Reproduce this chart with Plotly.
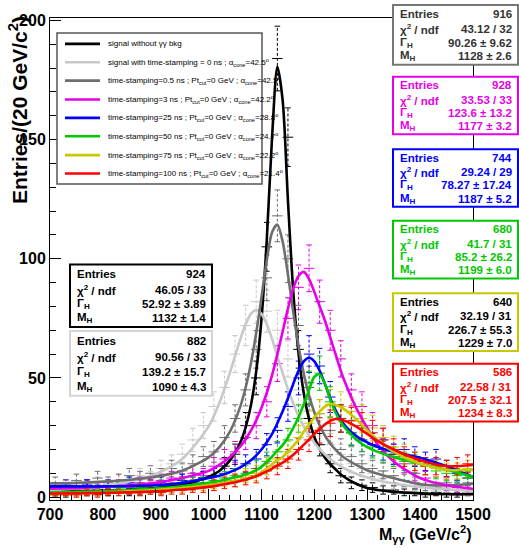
import numpy as np
import plotly.graph_objects as go

# ---------------- data ----------------
fit_x = [700, 750, 800, 850, 900, 950, 1000, 1020, 1040,
         1060, 1070, 1080, 1090, 1100, 1110, 1120, 1130, 1140, 1150,
         1160, 1170, 1180, 1190, 1200, 1210, 1220, 1230, 1240, 1250, 1260,
         1280, 1300, 1320, 1350, 1400, 1450, 1500]

fit_black = [2.2, 2.4, 2.6, 3.1, 3.8, 5.2, 8.5, 11, 15.3,
             23, 29.3, 38.6, 52.7, 74.7, 108, 151, 180.5, 166.5, 124.5,
             86.5, 60.4, 43.5, 32.6, 25.2, 20.1, 16.5, 13.8, 11.7, 9.5, 8.0,
             5.5, 3.8, 3.0, 2.2, 1.6, 1.3, 1.2]
fit_lgray = [2.9, 3.6, 4.7, 6.6, 9.7, 16, 29.7, 39.3, 52,
             66.3, 72.5, 76.9, 78.5, 76.9, 72.5, 66.3, 59.1, 52, 45.2,
             39.3, 34.1, 29.7, 26, 22.8, 20.1, 17.9, 16, 14.3, 12.9, 11.7,
             9.7, 8.2, 7.0, 5.7, 4.2, 3.3, 2.7]
fit_dgray = [5.7, 6.0, 6.5, 7.3, 8.6, 11.1, 16.7, 20.9, 27.4,
             38.1, 46, 56.1, 68.9, 83.9, 99.4, 111.1, 114.3, 107.2, 93.4,
             77.7, 63.5, 51.8, 42.6, 35.5, 30.1, 25.8, 22.5, 19.9, 17.7, 16,
             13.4, 11.3, 9.8, 7.9, 5.4, 4.9, 5.6]
fit_magenta = [3.5, 3.8, 4.3, 5, 6, 8, 11, 13.5, 16.7,
               21.3, 24.3, 27.9, 32.2, 37.5, 43.8, 51.2, 59.9, 69.5, 79.1,
               87.5, 92.8, 94.5, 91.5, 86, 80, 74, 67, 60, 53, 47,
               37, 29, 22, 15, 8, 5, 3.5]
fit_blue = [4.5, 4.5, 4.5, 4.7, 5.0, 6.0, 8.0, 9, 10.5,
            12.5, 14, 15.5, 17.5, 20, 23, 26.5, 31, 36, 41.5,
            47.5, 53, 57, 58.5, 57, 53, 47.5, 41.5, 36.5, 32.5, 29.5,
            25.5, 23, 21, 19, 16.5, 13, 8.5]
fit_green = [2.0, 2.2, 2.5, 3, 3.6, 4.6, 6, 6.8, 7.8,
             8.8, 9.5, 10.3, 11.3, 12.8, 14.8, 17, 19.5, 21.8, 25,
             29, 33.5, 39, 45, 50.5, 51.5, 47.5, 41, 35.5, 31.5, 28.5,
             24, 21, 19, 16.8, 14, 11.5, 8.5]
fit_yellow = [1.5, 1.7, 2.0, 2.4, 3.0, 3.8, 5, 5.6, 6.4,
              7.2, 7.8, 8.4, 9.2, 10.5, 12, 13.8, 15.5, 16.8, 19,
              21.5, 24, 27.5, 30.5, 33.5, 36, 38, 39, 38.8, 37.8, 36.3,
              32.5, 28, 24, 19, 14, 11.5, 11.3]
fit_red = [1.5, 1.6, 1.8, 2.0, 2.4, 3.2, 4.3, 5, 5.8,
           6.8, 7.3, 8, 8.8, 9.8, 10.8, 12, 13.3, 14.5, 16,
           17.8, 19.8, 22, 24.2, 26.5, 28.7, 30.5, 32, 32.8, 32.6, 31.8,
           29.5, 26.5, 23.5, 20, 15.5, 13, 13.5]

bin_centers = [710, 730, 750, 770, 790, 810, 830, 850, 870, 890,
               910, 930, 950, 970, 990, 1010, 1030, 1050, 1070, 1090,
               1110, 1130, 1150, 1170, 1190, 1210, 1230, 1250, 1270, 1290,
               1310, 1330, 1350, 1370, 1390, 1410, 1430, 1450, 1470, 1490]

h_black = [2, 1, 3, 2, 3, 2, 4, 2, 3, 5, 3, 5, 6, 5, 8, 9, 13, 18, 30, 50,
           105, 184, 151, 62, 33, 22, 14, 9, 6, 5, 4, 3, 3, 2, 2, 1, 2, 1, 1, 2]
h_lgray = [3, 5, 4, 3, 6, 5, 7, 6, 9, 8, 12, 14, 18, 24, 30, 38, 46, 60, 72, 82,
           78, 70, 58, 45, 36, 28, 22, 18, 14, 12, 10, 8, 6, 7, 5, 4, 3, 4, 3, 2]
h_dgray = [6, 4, 7, 5, 8, 6, 7, 9, 8, 10, 9, 12, 11, 14, 17, 19, 25, 33, 45, 62,
           92, 118, 100, 72, 48, 35, 28, 20, 17, 14, 12, 11, 9, 7, 6, 5, 4, 6, 5, 6]
h_magenta = [3, 4, 3, 5, 4, 3, 5, 4, 6, 5, 7, 8, 7, 10, 9, 13, 16, 19, 25, 30,
             40, 56, 75, 88, 96, 82, 70, 58, 45, 38, 30, 24, 18, 14, 10, 8, 6, 5, 4, 3]
h_blue = [4, 5, 4, 5, 3, 5, 4, 6, 5, 4, 6, 5, 7, 6, 8, 9, 10, 12, 14, 16,
          22, 28, 38, 50, 60, 55, 42, 33, 27, 24, 22, 20, 18, 20, 17, 15, 16, 12, 10, 8]
h_green = [2, 3, 2, 3, 2, 3, 4, 3, 4, 3, 5, 4, 5, 6, 6, 7, 8, 9, 10, 12,
           15, 19, 24, 33, 46, 52, 40, 33, 27, 24, 21, 19, 17, 15, 14, 13, 11, 10, 9, 8]
h_yellow = [1, 2, 1, 2, 2, 3, 2, 3, 2, 4, 3, 4, 4, 5, 5, 6, 7, 7, 9, 10,
            13, 16, 19, 25, 31, 35, 39, 38, 36, 33, 29, 25, 21, 18, 15, 13, 12, 11, 11, 12]
h_red = [1, 2, 1, 2, 1, 2, 2, 3, 2, 3, 2, 3, 3, 4, 4, 5, 6, 7, 8, 9,
         11, 13, 16, 20, 24, 28, 31, 33, 32, 30, 27, 24, 20, 17, 15, 13, 13, 12, 13, 14]

legend_labels = [
    "signal without γγ bkg",
    "signal with time-stamping = 0 ns ; α<sub>cone</sub>=42.5<sup>o</sup>",
    "time-stamping=0.5 ns ; Pt<sub>cut</sub>=0 GeV ; α<sub>cone</sub>=42.5<sup>o</sup>",
    "time-stamping=3 ns ; Pt<sub>cut</sub>=0 GeV ; α<sub>cone</sub>=42.2<sup>o</sup>",
    "time-stamping=25 ns ; Pt<sub>cut</sub>=0 GeV ; α<sub>cone</sub>=28.8<sup>o</sup>",
    "time-stamping=50 ns ; Pt<sub>cut</sub>=0 GeV ; α<sub>cone</sub>=24.7<sup>o</sup>",
    "time-stamping=75 ns ; Pt<sub>cut</sub>=0 GeV ; α<sub>cone</sub>=22.2<sup>o</sup>",
    "time-stamping=100 ns ; Pt<sub>cut</sub>=0 GeV ; α<sub>cone</sub>=21.4<sup>o</sup>",
]

# stats boxes (order: black, light gray, dark gray, magenta, blue, green, yellow, red)
st_entries = ["924", "882", "916", "928", "744", "680", "640", "586"]
st_chi2 = ["46.05 / 33", "90.56 / 33", "43.12 / 32", "33.53 / 33",
           "29.24 / 29", "41.7 / 31", "32.19 / 31", "22.58 / 31"]
st_gamma = ["52.92 ± 3.89", "139.2 ± 15.7", "90.26 ± 9.62", "123.6 ± 13.2",
            "78.27 ± 17.24", "85.2 ± 26.2", "226.7 ± 55.3", "207.5 ± 32.1"]
st_mass = ["1132 ± 1.4", "1090 ± 4.3", "1128 ± 2.6", "1177 ± 3.2",
           "1187 ± 5.2", "1199 ± 6.0", "1229 ± 7.0", "1234 ± 8.3"]

x_ticks = [700, 800, 900, 1000, 1100, 1200, 1300, 1400, 1500]
y_ticks = [0, 50, 100, 150, 200]

# ---------------- style ----------------
colors = ["#000000", "#c8c8c8", "#6e6e6e", "#e600e6", "#0000ff", "#00c800", "#c8c800", "#ff0000"]
fits = [fit_black, fit_lgray, fit_dgray, fit_magenta, fit_blue, fit_green, fit_yellow, fit_red]
hists = [h_black, h_lgray, h_dgray, h_magenta, h_blue, h_green, h_yellow, h_red]

W, H = 519, 548
ML, MR, MT, MB = 50, 46, 15, 48
PW, PH = W - ML - MR, H - MT - MB
FONT = "Liberation Sans, Arial, sans-serif"


def px(x):
    return (x - ML) / PW


def py(y):
    return (H - MB - y) / PH


fig = go.Figure()

# histograms: dashed vertical error bars, solid horizontal bin-width bars, small caps
for c, h in zip(colors, hists):
    hv = np.array(h, dtype=float)
    err = np.sqrt(hv)
    vx, vy = [], []
    for xc, v, e in zip(bin_centers, hv, err):
        vx += [xc, xc, None]
        vy += [v - e, v + e, None]
    fig.add_trace(go.Scatter(
        x=vx, y=vy, mode="lines", line=dict(color=c, width=1, dash="3px,2px"),
        showlegend=False, hoverinfo="skip"))
    fig.add_trace(go.Scatter(
        x=bin_centers, y=hv, mode="markers",
        marker=dict(size=1, color=c),
        error_x=dict(type="constant", value=10, color=c, thickness=1, width=0),
        showlegend=False, hoverinfo="skip"))
    fig.add_trace(go.Scatter(
        x=list(bin_centers) * 2, y=list(hv - err) + list(hv + err), mode="markers",
        marker=dict(symbol="line-ew-open", size=4, color=c, line=dict(width=1, color=c)),
        showlegend=False, hoverinfo="skip"))

# fitted curves
for c, f in zip(colors, fits):
    fig.add_trace(go.Scatter(
        x=fit_x, y=f, mode="lines",
        line=dict(color=c, width=2.6, shape="spline", smoothing=0.8),
        showlegend=False, hoverinfo="skip"))

shapes = []
annots = []

# legend box
lx0, lx1, ly0, ly1 = 57, 262, 30, 182
shapes.append(dict(type="rect", xref="paper", yref="paper",
                   x0=px(lx0), x1=px(lx1), y0=py(ly0), y1=py(ly1),
                   fillcolor="white", line=dict(color="#555555", width=1.5), layer="above"))
row_y = [41, 59.5, 78, 97, 115.5, 134, 153, 171.5]
for i, (c, lab) in enumerate(zip(colors, legend_labels)):
    shapes.append(dict(type="line", xref="paper", yref="paper",
                       x0=px(65), x1=px(100), y0=py(row_y[i]), y1=py(row_y[i]),
                       line=dict(color=c, width=2.6), layer="above"))
    annots.append(dict(xref="paper", yref="paper", x=px(106), y=py(row_y[i]),
                       xanchor="left", yanchor="middle", showarrow=False,
                       text=lab, font=dict(family=FONT, size=8, color="black")))

# stats boxes
box_pos = [  # x0, x1, top, bottom
    (70, 212, 263, 326),
    (70, 212, 330, 395),
    (393, 518, 2, 62),
    (393, 518, 74, 132),
    (393, 518, 147, 205),
    (393, 518, 219, 277),
    (393, 518, 292, 350),
    (393, 518, 363, 421),
]
box_col = ["#000000", "#d4d4d4", "#777777", "#e600e6", "#0000ff", "#00c800", "#c8c800", "#ff0000"]
txt_col = ["#000000", "#000000", "#333333", "#e600e6", "#0000ff", "#00c800", "#000000", "#ff0000"]
labels_st = ["Entries", "χ<sup>2</sup> / ndf", "Γ<sub>H</sub>", "M<sub>H</sub>"]
for i in range(8):
    x0, x1, t, b = box_pos[i]
    shapes.append(dict(type="rect", xref="paper", yref="paper",
                       x0=px(x0), x1=px(x1), y0=py(t), y1=py(b),
                       fillcolor="white", line=dict(color=box_col[i], width=2), layer="above"))
    hgt = b - t
    rows = [t + hgt * 0.15, t + hgt * 0.4, t + hgt * 0.63, t + hgt * 0.86]
    vals = [st_entries[i], st_chi2[i], st_gamma[i], st_mass[i]]
    for r, lab, v in zip(rows, labels_st, vals):
        annots.append(dict(xref="paper", yref="paper", x=px(x0 + 5), y=py(r),
                           xanchor="left", yanchor="middle", showarrow=False,
                           text=lab, font=dict(family=FONT, size=11.5, color=txt_col[i], weight="bold")))
        annots.append(dict(xref="paper", yref="paper", x=px(x1 - 4), y=py(r),
                           xanchor="right", yanchor="middle", showarrow=False,
                           text=v, font=dict(family=FONT, size=11.5, color=txt_col[i], weight="bold")))

# axis titles
annots.append(dict(xref="paper", yref="paper", x=px(18), y=py(11),
                   xanchor="center", yanchor="top", textangle=-90, showarrow=False,
                   text="Entries/(20 GeV/c<sup>2</sup>)",
                   font=dict(family=FONT, size=21, color="black", weight="bold")))
annots.append(dict(xref="paper", yref="paper", x=px(473), y=py(534),
                   xanchor="right", yanchor="middle", showarrow=False,
                   text="M<sub>γγ</sub> (GeV/c<sup>2</sup>)",
                   font=dict(family=FONT, size=16, color="black", weight="bold")))

fig.update_layout(
    width=W, height=H,
    margin=dict(l=ML, r=MR, t=MT, b=MB),
    paper_bgcolor="white", plot_bgcolor="white",
    showlegend=False,
    shapes=shapes, annotations=annots,
    xaxis=dict(range=[700, 1500], tickvals=x_ticks, ticktext=[str(v) for v in x_ticks],
               ticks="inside", ticklen=11, tickcolor="black",
               minor=dict(ticks="inside", dtick=20, ticklen=5, tickcolor="black"),
               showline=True, linecolor="black", linewidth=1, mirror=True,
               showgrid=False, zeroline=False,
               tickfont=dict(family=FONT, size=16, color="black", weight="bold")),
    yaxis=dict(range=[-1.2, 201], tickvals=y_ticks, ticktext=[str(v) for v in y_ticks],
               ticks="inside", ticklen=11, tickcolor="black",
               minor=dict(ticks="inside", dtick=10, ticklen=6, tickcolor="black"),
               showline=True, linecolor="black", linewidth=1, mirror=True,
               showgrid=False, zeroline=False,
               tickfont=dict(family=FONT, size=16, color="black", weight="bold")),
)

fig.write_html("out.html", config={"displayModeBar": False},
               post_script="document.body.style.margin='0px';")
